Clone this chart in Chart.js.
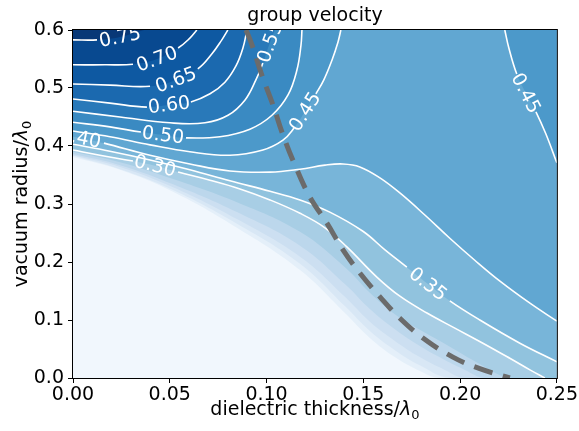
<!DOCTYPE html>
<html>
<head>
<meta charset="utf-8">
<script src="https://cdn.jsdelivr.net/npm/chart.js@4.4.1/dist/chart.umd.min.js"></script>
<style>
  html, body { margin: 0; padding: 0; background: #fff; }
</style>
</head>
<body>
<canvas id="grafico" width="579" height="431"></canvas>
<script>
// eixos
const xTicks = [0, 0.05, 0.10, 0.15, 0.20, 0.25];
const yTicks = [0, 0.1, 0.2, 0.3, 0.4, 0.5, 0.6];

// curvas de nível (x = espessura, y = raio)
const curva005X = [0, 0.0243, 0.0517, 0.0847, 0.1173, 0.1405, 0.1534, 0.1663, 0.1792, 0.1896];
const curva005Y = [0.381, 0.359, 0.321, 0.259, 0.186, 0.112, 0.069, 0.036, 0.012, 0];
const curva010X = [0, 0.0243, 0.0517, 0.0847, 0.1173, 0.1405, 0.1534, 0.1663, 0.1792, 0.1947];
const curva010Y = [0.383, 0.360, 0.324, 0.266, 0.197, 0.124, 0.081, 0.048, 0.022, 0];
const curva015X = [0, 0.0243, 0.0517, 0.0847, 0.1173, 0.1405, 0.1534, 0.1663, 0.1792, 0.1921, 0.2025];
const curva015Y = [0.384, 0.364, 0.329, 0.274, 0.209, 0.140, 0.097, 0.064, 0.036, 0.014, 0];
const curva020X = [0, 0.0243, 0.0517, 0.0847, 0.1173, 0.1405, 0.1534, 0.1663, 0.1792, 0.1921, 0.2025, 0.2128];
const curva020Y = [0.386, 0.367, 0.334, 0.286, 0.228, 0.162, 0.119, 0.084, 0.055, 0.031, 0.014, 0];
const curva025X = [0, 0.0243, 0.0517, 0.0847, 0.1173, 0.1405, 0.1534, 0.1663, 0.1792, 0.1921, 0.2076, 0.2257];
const curva025Y = [0.390, 0.372, 0.343, 0.303, 0.252, 0.191, 0.147, 0.110, 0.083, 0.059, 0.029, 0];
const curva030X = [0, 0.0139, 0.031, 0.0424, 0.0543, 0.0708, 0.0863, 0.1018, 0.1173, 0.1302, 0.1415, 0.157, 0.1689, 0.1829, 0.1973, 0.2118, 0.2257, 0.2361, 0.2438];
const curva030Y = [0.393, 0.384, 0.374, 0.366, 0.355, 0.341, 0.326, 0.307, 0.284, 0.259, 0.226, 0.174, 0.141, 0.112, 0.086, 0.060, 0.034, 0.014, 0];
const curva035X = [0, 0.0191, 0.0398, 0.0604, 0.0811, 0.1018, 0.1173, 0.1327, 0.1498, 0.1612, 0.1725, 0.1834, 0.1947, 0.2102, 0.2309, 0.25];
const curva035Y = [0.403, 0.391, 0.376, 0.359, 0.340, 0.322, 0.307, 0.286, 0.253, 0.221, 0.191, 0.162, 0.133, 0.100, 0.060, 0.028];
const curva040X = [0, 0.0036, 0.016, 0.0398, 0.0604, 0.0811, 0.1018, 0.1173, 0.1302, 0.1395, 0.1482, 0.1586, 0.1689, 0.1818, 0.1947, 0.2076, 0.2206, 0.2361, 0.25];
const curva040Y = [0.416, 0.414, 0.405, 0.384, 0.369, 0.357, 0.355, 0.360, 0.367, 0.369, 0.364, 0.345, 0.319, 0.281, 0.241, 0.203, 0.167, 0.129, 0.098];
const curva045aX = [0, 0.0191, 0.0398, 0.0604, 0.0811, 0.0981, 0.1085, 0.1142, 0.1198, 0.1255, 0.1296, 0.1338, 0.1369, 0.1384];
const curva045aY = [0.426, 0.416, 0.402, 0.390, 0.384, 0.393, 0.410, 0.431, 0.459, 0.490, 0.514, 0.548, 0.579, 0.6];
const curva045bX = [0.2231, 0.2252, 0.2293, 0.234, 0.2392, 0.2443, 0.25];
const curva045bY = [0.6, 0.569, 0.524, 0.491, 0.459, 0.421, 0.371];
const curva050X = [0, 0.0191, 0.0351, 0.0465, 0.0584, 0.0759, 0.0914, 0.1028, 0.1111, 0.1157, 0.1178, 0.1183];
const curva050Y = [0.441, 0.433, 0.424, 0.419, 0.414, 0.416, 0.429, 0.453, 0.488, 0.531, 0.574, 0.6];
const curva055X = [0, 0.0243, 0.0501, 0.0682, 0.0801, 0.0888, 0.0945, 0.0981, 0.1018, 0.1043];
const curva055Y = [0.460, 0.450, 0.440, 0.440, 0.453, 0.479, 0.514, 0.543, 0.579, 0.6];
const curva060X = [0, 0.0191, 0.0382, 0.0496, 0.0609, 0.0708, 0.0785, 0.0842, 0.0878, 0.0899];
const curva060Y = [0.481, 0.474, 0.467, 0.471, 0.476, 0.490, 0.510, 0.538, 0.569, 0.6];
const curva065X = [0, 0.0191, 0.0398, 0.0532, 0.0645, 0.0718, 0.0769, 0.08];
const curva065Y = [0.507, 0.505, 0.503, 0.514, 0.533, 0.559, 0.583, 0.6];
const curva070X = [0, 0.0165, 0.031, 0.0434, 0.0543, 0.0604, 0.064];
const curva070Y = [0.540, 0.540, 0.541, 0.550, 0.569, 0.586, 0.6];
const curva075X = [0, 0.0124, 0.0243, 0.0367];
const curva075Y = [0.583, 0.583, 0.588, 0.6];

// linha tracejada cinza
const corteX = [0.0894, 0.0925, 0.0976, 0.1033, 0.1085, 0.1147, 0.1224, 0.1312, 0.1395, 0.1482, 0.1586, 0.1689, 0.1808, 0.1963, 0.2102, 0.2257];
const corteY = [0.6, 0.574, 0.522, 0.471, 0.419, 0.367, 0.312, 0.267, 0.221, 0.181, 0.140, 0.103, 0.069, 0.036, 0.016, 0];

// rotulo = índice do ponto onde vai o texto do nível
const curvas = [
    { nivel: 0.05, x: curva005X, y: curva005Y },
    { nivel: 0.10, x: curva010X, y: curva010Y },
    { nivel: 0.15, x: curva015X, y: curva015Y },
    { nivel: 0.20, x: curva020X, y: curva020Y },
    { nivel: 0.25, x: curva025X, y: curva025Y },
    { nivel: 0.30, x: curva030X, y: curva030Y, rotulo: 3 },
    { nivel: 0.35, x: curva035X, y: curva035Y, rotulo: 11 },
    { nivel: 0.40, x: curva040X, y: curva040Y, rotulo: 1 },
    { nivel: 0.45, x: curva045aX, y: curva045aY, rotulo: 8 },
    { nivel: 0.45, x: curva045bX, y: curva045bY, rotulo: 3 },
    { nivel: 0.50, x: curva050X, y: curva050Y, rotulo: 3 },
    { nivel: 0.55, x: curva055X, y: curva055Y, rotulo: 8 },
    { nivel: 0.60, x: curva060X, y: curva060Y, rotulo: 3 },
    { nivel: 0.65, x: curva065X, y: curva065Y, rotulo: 3 },
    { nivel: 0.70, x: curva070X, y: curva070Y, rotulo: 3 },
    { nivel: 0.75, x: curva075X, y: curva075Y, rotulo: 2 }
];

const xMin = xTicks[0], xMax = xTicks[xTicks.length - 1];
const yMin = yTicks[0], yMax = yTicks[yTicks.length - 1];
const passo = 0.05;
const vmax = 0.8;
const suave = 0.4;
const FONTE = '"DejaVu Sans", sans-serif';

// mapa de cores "Blues"
const paradas = ['#f7fbff', '#deebf7', '#c6dbef', '#9ecae1', '#6baed6', '#4292c6', '#2171b5', '#08519c', '#08306b'];
function hexRgb(h) {
    return [1, 3, 5].map(i => parseInt(h.slice(i, i + 2), 16));
}
function blues(t) {
    const p = Math.min(Math.max(t, 0), 1) * (paradas.length - 1);
    const i = Math.min(Math.floor(p), paradas.length - 2);
    const f = p - i;
    const a = hexRgb(paradas[i]), b = hexRgb(paradas[i + 1]);
    const c = a.map((v, k) => Math.round(v + (b[k] - v) * f));
    return `rgb(${c[0]},${c[1]},${c[2]})`;
}
const corFaixa = nivel => blues((nivel + passo / 2) / vmax);

const pontos = (xs, ys) => xs.map((x, i) => ({ x: x, y: ys[i] }));

const datasets = [];

// fundo (faixa abaixo do primeiro nível)
datasets.push({
    data: pontos([xMin, xMax], [yMin, yMin]),
    fill: 'end',
    backgroundColor: corFaixa(0),
    borderWidth: 0,
    borderColor: 'transparent',
    pointRadius: 0,
    order: 300
});

// preenchimento de cada nível, do menor para o maior
curvas.forEach((c, i) => {
    const dados = pontos(c.x, c.y);
    const ult = dados[dados.length - 1];
    if (ult.y === yMin && ult.x < xMax) dados.push({ x: xMax, y: yMin });
    datasets.push({
        data: dados,
        fill: 'end',
        backgroundColor: corFaixa(c.nivel),
        borderWidth: 0,
        borderColor: 'transparent',
        pointRadius: 0,
        tension: suave,
        order: 200 - i
    });
});

// linhas brancas a partir de 0.30, com espaço para o rótulo
curvas.filter(c => c.rotulo !== undefined).forEach(c => {
    const k = c.rotulo;
    datasets.push({
        data: pontos(c.x, c.y),
        fill: false,
        borderColor: '#ffffff',
        borderWidth: 1.6,
        pointRadius: 0,
        tension: suave,
        segment: {
            borderColor: ctx => (ctx.p0DataIndex === k - 1 || ctx.p0DataIndex === k) ? 'rgba(255,255,255,0)' : undefined
        },
        order: 20
    });
});

datasets.push({
    data: pontos(corteX, corteY),
    fill: false,
    borderColor: '#6b6b6b',
    borderWidth: 5,
    borderDash: [19, 11],
    pointRadius: 0,
    tension: suave,
    order: 10
});

function textoLambda(ctx, base, x, y, tam) {
    // texto + λ itálico + 0 subscrito, centrado em x
    const f1 = `${tam}px ${FONTE}`;
    const f2 = `oblique ${tam}px ${FONTE}`;
    const f3 = `${Math.round(tam * 0.7)}px ${FONTE}`;
    ctx.font = f1; const w1 = ctx.measureText(base).width;
    ctx.font = f2; const w2 = ctx.measureText('λ').width;
    ctx.font = f3; const w3 = ctx.measureText('0').width;
    let cx = x - (w1 + w2 + w3) / 2;
    ctx.textAlign = 'left';
    ctx.textBaseline = 'alphabetic';
    ctx.font = f1; ctx.fillText(base, cx, y); cx += w1;
    ctx.font = f2; ctx.fillText('λ', cx, y); cx += w2;
    ctx.font = f3; ctx.fillText('0', cx, y + tam * 0.2);
}

const decoracao = {
    id: 'decoracao',
    afterDatasetsDraw(chart) {
        const { ctx, chartArea: a, scales } = chart;
        const sx = scales.x, sy = scales.y;
        ctx.save();
        ctx.beginPath();
        ctx.rect(a.left, a.top, a.right - a.left, a.bottom - a.top);
        ctx.clip();
        ctx.fillStyle = '#ffffff';
        ctx.font = `19px ${FONTE}`;
        ctx.textAlign = 'center';
        ctx.textBaseline = 'middle';
        curvas.forEach(c => {
            if (c.rotulo === undefined) return;
            const k = c.rotulo;
            const px = sx.getPixelForValue(c.x[k]);
            const py = sy.getPixelForValue(c.y[k]);
            const dx = sx.getPixelForValue(c.x[k + 1]) - sx.getPixelForValue(c.x[k - 1]);
            const dy = sy.getPixelForValue(c.y[k + 1]) - sy.getPixelForValue(c.y[k - 1]);
            let ang = Math.atan2(dy, dx);
            if (ang > Math.PI / 2) ang -= Math.PI;
            if (ang < -Math.PI / 2) ang += Math.PI;
            ctx.save();
            ctx.translate(px, py);
            ctx.rotate(ang);
            ctx.fillText(c.nivel.toFixed(2), 0, 1);
            ctx.restore();
        });
        ctx.restore();
    },
    afterDraw(chart) {
        const { ctx, chartArea: a } = chart;
        ctx.save();
        // moldura
        ctx.strokeStyle = '#000';
        ctx.lineWidth = 1;
        ctx.strokeRect(a.left - 0.5, a.top - 0.5, a.right - a.left + 1, a.bottom - a.top + 1);
        ctx.fillStyle = '#000';
        // título
        ctx.font = `19px ${FONTE}`;
        ctx.textAlign = 'center';
        ctx.textBaseline = 'alphabetic';
        ctx.fillText('group velocity', (a.left + a.right) / 2, 21);
        // títulos dos eixos
        textoLambda(ctx, 'dielectric thickness/', (a.left + a.right) / 2, 415, 19);
        ctx.translate(27, (a.top + a.bottom) / 2);
        ctx.rotate(-Math.PI / 2);
        textoLambda(ctx, 'vacuum radius/', 0, 0, 19);
        ctx.restore();
    }
};

new Chart(document.getElementById('grafico'), {
    type: 'line',
    data: { datasets: datasets },
    options: {
        responsive: false,
        animation: false,
        events: [],
        layout: { padding: { left: 0, right: 22, top: 30, bottom: 0 } },
        plugins: {
            legend: { display: false },
            tooltip: { enabled: false },
            title: { display: false }
        },
        scales: {
            x: {
                type: 'linear',
                min: xMin,
                max: xMax,
                afterBuildTicks: s => { s.ticks = xTicks.map(v => ({ value: v })); },
                afterFit: s => { s.height = 53; },
                ticks: {
                    callback: v => v.toFixed(2),
                    color: '#000',
                    font: { family: FONTE, size: 19 },
                    padding: 1,
                    maxRotation: 0
                },
                grid: { drawOnChartArea: false, tickLength: 5, color: '#000' },
                border: { display: false }
            },
            y: {
                type: 'linear',
                min: yMin,
                max: yMax,
                afterBuildTicks: s => { s.ticks = yTicks.map(v => ({ value: v })); },
                afterFit: s => { s.width = 73; },
                ticks: {
                    callback: v => v.toFixed(1),
                    color: '#000',
                    font: { family: FONTE, size: 19 },
                    padding: 4
                },
                grid: { drawOnChartArea: false, tickLength: 5, color: '#000' },
                border: { display: false }
            }
        }
    },
    plugins: [decoracao]
});
</script>
</body>
</html>
